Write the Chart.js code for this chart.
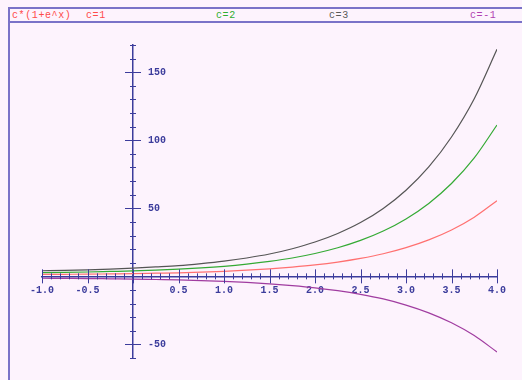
<!DOCTYPE html>
<html>
<head>
<meta charset="utf-8">
<script src="https://cdn.jsdelivr.net/npm/chart.js@4.4.1/dist/chart.umd.min.js"></script>
<style>
  body { margin: 0; background: #fdf3fd; overflow: hidden; }
  #frame { position: absolute; left: 8px; top: 7px; width: 600px; height: 400px;
    border-left: 2px solid #7a72c8; border-top: 2px solid #7a72c8; }
  #head { position: absolute; left: 0; top: 0; width: 100%; height: 12px; border-bottom: 2px solid #7a72c8;
    font: 10px "Liberation Mono", monospace; letter-spacing: 0.6px; }
  #head span { position: absolute; top: 1px; }
  #wrap { position: absolute; left: 0; top: 0; width: 522px; height: 380px; }
</style>
</head>
<body>
<div id="frame">
  <div id="head">
    <span style="left:2px;color:#ff4a4a">c*(1+e^x)</span>
    <span style="left:76px;color:#ff4a4a">c=1</span>
    <span style="left:206px;color:#2fae2f">c=2</span>
    <span style="left:319px;color:#5a5a5a">c=3</span>
    <span style="left:460px;color:#b040b0">c=-1</span>
  </div>
</div>
<div id="wrap"><canvas id="myChart" width="522" height="380"></canvas></div>
<script>
// x positions read along the axis
var xs = [-1, -0.75, -0.5, -0.25, 0, 0.25, 0.5, 0.75, 1, 1.25, 1.5, 1.75, 2, 2.25, 2.5, 2.75, 3, 3.25, 3.5, 3.75, 4];
// values of each curve
var c1 = [1.4, 1.5, 1.6, 1.8, 2.0, 2.3, 2.6, 3.1, 3.7, 4.5, 5.5, 6.8, 8.4, 10.5, 13.2, 16.6, 21.1, 26.8, 34.1, 43.5, 55.6];
var c2 = [2.7, 2.9, 3.2, 3.6, 4.0, 4.6, 5.3, 6.2, 7.4, 9.0, 11.0, 13.5, 16.8, 21.0, 26.4, 33.3, 42.2, 53.6, 68.2, 87.0, 111.2];
var c3 = [4.1, 4.4, 4.8, 5.3, 6.0, 6.9, 7.9, 9.4, 11.2, 13.5, 16.4, 20.3, 25.2, 31.5, 39.5, 49.9, 63.3, 80.4, 102.4, 130.5, 166.8];
var cm1 = [-1.4, -1.5, -1.6, -1.8, -2.0, -2.3, -2.6, -3.1, -3.7, -4.5, -5.5, -6.8, -8.4, -10.5, -13.2, -16.6, -21.1, -26.8, -34.1, -43.5, -55.6];
// tick labels
var xLabels = [-1.0, -0.5, 0.5, 1.0, 1.5, 2.0, 2.5, 3.0, 3.5, 4.0];
var yLabels = [-50, 50, 100, 150];

var axisColor = '#3c3c9c';
var tickFont = 'bold 10px "Liberation Mono", monospace';

function pts(ys) {
    return xs.map(function (x, i) { return {x: x, y: ys[i]}; });
}

function isLabelled(list, v) {
    return list.some(function (l) { return Math.abs(l - v) < 1e-6; });
}

// tick marks crossing both axes, plus the y labels on the right side
var crossTicks = {
    id: 'crossTicks',
    afterDatasetsDraw: function (chart) {
        var ctx = chart.ctx;
        var sx = chart.scales.x, sy = chart.scales.y;
        var x0 = sx.getPixelForValue(0), y0 = sy.getPixelForValue(0);
        ctx.save();
        ctx.strokeStyle = axisColor;
        ctx.lineWidth = 1;
        ctx.beginPath();
        sx.ticks.forEach(function (t) {
            var v = Math.round(t.value * 10) / 10;
            var major = Math.abs(v * 2 - Math.round(v * 2)) < 1e-6;
            var h = major ? 7 : 3;
            var px = Math.round(sx.getPixelForValue(v)) + 0.5;
            ctx.moveTo(px, y0 - h); ctx.lineTo(px, y0 + h);
        });
        sy.ticks.forEach(function (t) {
            var v = Math.round(t.value);
            var major = v % 50 === 0;
            var w = major ? 8 : 3;
            var py = Math.round(sy.getPixelForValue(v)) + 0.5;
            ctx.moveTo(x0 - w, py); ctx.lineTo(x0 + w, py);
        });
        ctx.stroke();
        ctx.fillStyle = axisColor;
        ctx.font = tickFont;
        ctx.textAlign = 'left';
        ctx.textBaseline = 'middle';
        sy.ticks.forEach(function (t) {
            if (isLabelled(yLabels, t.value)) {
                ctx.fillText(String(t.value), x0 + 15, sy.getPixelForValue(t.value));
            }
        });
        ctx.restore();
    }
};

var ctx = document.getElementById('myChart').getContext('2d');

var data = {
    datasets: [
        {label: 'c=1', data: pts(c1), borderColor: '#ff7070'},
        {label: 'c=2', data: pts(c2), borderColor: '#34aa34'},
        {label: 'c=3', data: pts(c3), borderColor: '#555555'},
        {label: 'c=-1', data: pts(cm1), borderColor: '#a03ca0'}
    ]
};

var config = {
    type: 'line',
    data: data,
    options: {
        responsive: false,
        animation: false,
        layout: {padding: {left: 42, right: 25, top: 45, bottom: 22}},
        elements: {
            line: {borderWidth: 1.2, cubicInterpolationMode: 'monotone', fill: false},
            point: {radius: 0}
        },
        scales: {
            x: {
                type: 'linear',
                position: {y: 0},
                min: -1,
                max: 4,
                border: {color: axisColor, width: 1.5},
                grid: {drawOnChartArea: false, drawTicks: false},
                ticks: {
                    stepSize: 0.1,
                    autoSkip: false,
                    maxRotation: 0,
                    padding: 8,
                    color: axisColor,
                    font: {family: '"Liberation Mono", monospace', size: 10, weight: 'bold'},
                    callback: function (v) {
                        return isLabelled(xLabels, v) ? Number(v).toFixed(1) : '';
                    }
                }
            },
            y: {
                type: 'linear',
                position: {x: 0},
                min: -60,
                max: 170,
                border: {color: axisColor, width: 1.5},
                grid: {drawOnChartArea: false, drawTicks: false},
                ticks: {stepSize: 10, display: false}
            }
        },
        plugins: {
            legend: {display: false},
            tooltip: {enabled: false}
        }
    },
    plugins: [crossTicks]
};

var myChart = new Chart(ctx, config);
</script>
</body>
</html>
